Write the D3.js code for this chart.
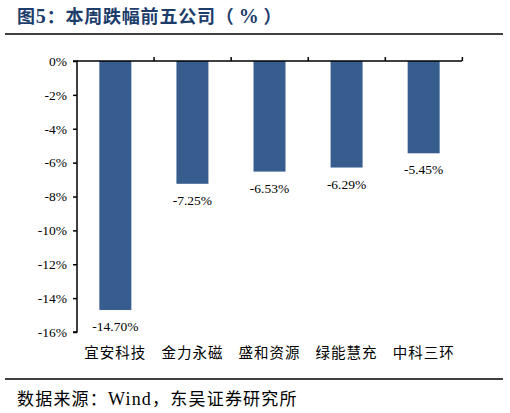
<!DOCTYPE html>
<html>
<head>
<meta charset="utf-8">
<script src="https://cdn.jsdelivr.net/npm/d3@7"></script>
<style>
  body { margin: 0; background: #fff; }
  svg { display: block; }
</style>
</head>
<body>
<script>
var w = 510;
var h = 413;

// data
var companies = ["宜安科技", "金力永磁", "盛和资源", "绿能慧充", "中科三环"];
var changes = [-14.70, -7.25, -6.53, -6.29, -5.45];
var yTicks = [0, -2, -4, -6, -8, -10, -12, -14, -16];

var svg = d3.select("body").append("svg")
    .attr("width", w)
    .attr("height", h);

var serif = "'Liberation Serif', 'Noto Sans CJK SC', serif";
var cjk = "'Noto Sans CJK SC', 'Liberation Serif', serif";

// title + rule
var title = svg.append("text")
    .attr("x", 17).attr("y", 23)
    .attr("font-family", cjk)
    .attr("font-weight", "bold")
    .attr("font-size", 18)
    .attr("letter-spacing", 0.8)
    .attr("fill", "#1d3d6b");
title.append("tspan").text("图");
title.append("tspan").attr("font-family", serif).attr("font-size", 20).text("5");
title.append("tspan").text("：本周跌幅前五公司（");
title.append("tspan").attr("font-family", serif).attr("font-size", 20).attr("dx", 4).text("%");
title.append("tspan").attr("dx", 4).text("）");

svg.append("line")
    .attr("x1", 5).attr("x2", 503)
    .attr("y1", 34).attr("y2", 34)
    .attr("stroke", "#000").attr("stroke-width", 1.5);

var x = d3.scaleBand()
    .domain(companies)
    .range([77, 462])
    .paddingInner(0.585)
    .paddingOuter(0.29);

var y = d3.scaleLinear()
    .domain([0, -16])
    .range([61, 332]);

var g = svg.append("g");

// bars
g.selectAll(".bar")
    .data(changes)
    .enter().append("rect")
    .attr("class", "bar")
    .attr("x", function(d, i) { return x(companies[i]); })
    .attr("y", y(0))
    .attr("width", x.bandwidth())
    .attr("height", function(d) { return y(d) - y(0); })
    .attr("fill", "#375d8f");

// value labels
g.selectAll(".lbl")
    .data(changes)
    .enter().append("text")
    .attr("class", "lbl")
    .attr("x", function(d, i) { return x(companies[i]) + x.bandwidth() / 2; })
    .attr("y", function(d) { return y(d) + 21; })
    .attr("text-anchor", "middle")
    .attr("font-family", serif)
    .attr("font-size", 13.5)
    .attr("fill", "#000")
    .text(function(d) { return d.toFixed(2) + "%"; });

// y axis
var yAxis = d3.axisLeft(y)
    .tickValues(yTicks)
    .tickSize(4)
    .tickFormat(function(d) { return d + "%"; });

var ya = svg.append("g")
    .attr("transform", "translate(77,0)")
    .call(yAxis);
ya.select(".domain").attr("d", "M-4," + y(0) + "H0V" + y(-16) + "H-4").attr("stroke-width", 1.5);
ya.selectAll(".tick line").attr("stroke-width", 1.5);
ya.selectAll(".tick text")
    .attr("x", -10)
    .attr("font-family", serif)
    .attr("font-size", 13.5)
    .attr("fill", "#000");

// top category axis (line at 0 with upward ticks between bars)
var step = x.step();
var xa = svg.append("g");
xa.append("line")
    .attr("x1", 77).attr("x2", 462)
    .attr("y1", y(0)).attr("y2", y(0))
    .attr("stroke", "#000").attr("stroke-width", 1.5);
xa.selectAll(".xt")
    .data(d3.range(1, companies.length + 1))
    .enter().append("line")
    .attr("x1", function(i) { return 77 + i * step; })
    .attr("x2", function(i) { return 77 + i * step; })
    .attr("y1", y(0)).attr("y2", y(0) - 4)
    .attr("stroke", "#000").attr("stroke-width", 1.5);

// category names below plot
svg.selectAll(".cat")
    .data(companies)
    .enter().append("text")
    .attr("class", "cat")
    .attr("x", function(d) { return x(d) + x.bandwidth() / 2; })
    .attr("y", 358)
    .attr("text-anchor", "middle")
    .attr("font-family", cjk)
    .attr("font-size", 14.5)
    .attr("letter-spacing", 1)
    .attr("fill", "#000")
    .text(function(d) { return d; });

// source rule + note
svg.append("line")
    .attr("x1", 5).attr("x2", 503)
    .attr("y1", 379).attr("y2", 379)
    .attr("stroke", "#000").attr("stroke-width", 1.5);

var src = svg.append("text")
    .attr("x", 17).attr("y", 405)
    .attr("font-family", cjk)
    .attr("font-size", 17)
    .attr("letter-spacing", 1.2)
    .attr("fill", "#000");
src.append("tspan").text("数据来源：");
src.append("tspan").attr("font-family", serif).attr("font-size", 18).text("Wind");
src.append("tspan").text("，东吴证券研究所");
</script>
</body>
</html>
